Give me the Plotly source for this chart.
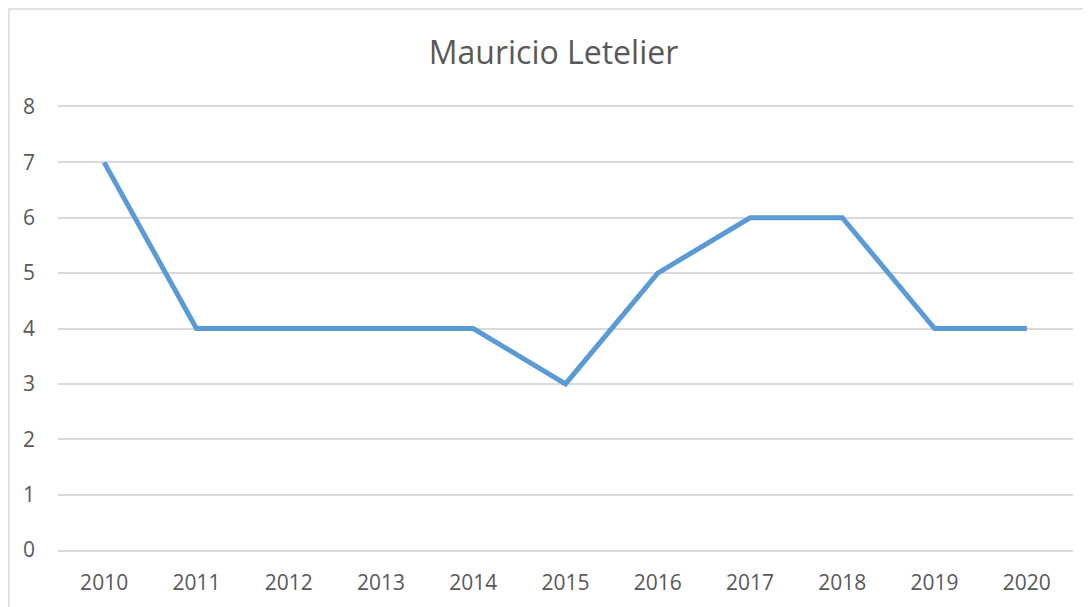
import plotly.graph_objects as go

years = ["2010", "2011", "2012", "2013", "2014", "2015", "2016", "2017", "2018", "2019", "2020"]
values = [7, 4, 4, 4, 4, 3, 5, 6, 6, 4, 4]
title = "Mauricio Letelier"

OFF = 8  # page body margin offset
L, R, T, B = 58 - OFF, 1073 - OFF, 107 - OFF, 550 - OFF
W, H = 1091, 607
pw, ph = R - L, B - T

fig = go.Figure(go.Scatter(
    x=years, y=values, mode="lines",
    line=dict(color="#5B9BD5", width=5),
))
fig.update_layout(
    width=W, height=H,
    margin=dict(l=L, r=W - R, t=T, b=H - B),
    paper_bgcolor="white", plot_bgcolor="white",
    showlegend=False,
    font=dict(family="Open Sans, Liberation Sans, sans-serif", color="#595959", size=21),
    title=dict(text=title, x=0.5, xanchor="center", y=1 - (53 - OFF) / H, yanchor="middle",
               font=dict(size=32, color="#595959")),
    xaxis=dict(type="category", range=[-0.5, 10.5], showgrid=False,
               showline=True, mirror=True, linecolor="#D9D9D9", linewidth=1.5,
               zeroline=False, ticks="", ticklabelstandoff=13, fixedrange=True),
    yaxis=dict(range=[0, 8], dtick=1, showgrid=True, gridcolor="#D9D9D9", gridwidth=1.5,
               zeroline=False, showline=False, ticks="", ticklabelstandoff=22, fixedrange=True),
    shapes=[dict(type="rect", xref="paper", yref="paper",
                 x0=(1 - L) / pw, x1=(1095 - OFF - L) / pw,
                 y0=(B - (612 - OFF)) / ph, y1=(B - 1) / ph,
                 line=dict(color="#D9D9D9", width=1.5), layer="below")],
)
fig.write_html("out.html")
